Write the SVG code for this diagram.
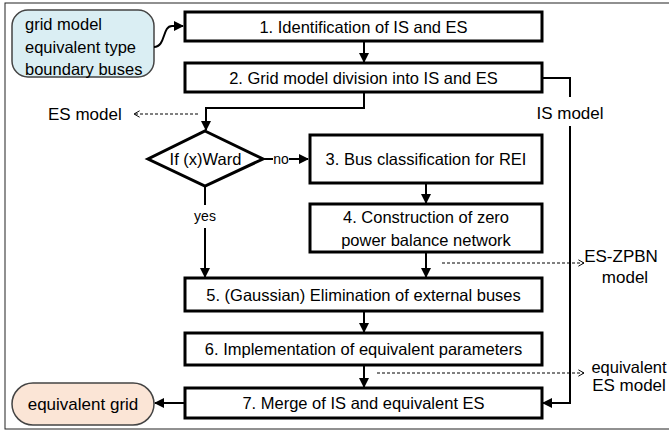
<svg xmlns="http://www.w3.org/2000/svg" width="669" height="432" viewBox="0 0 669 432">
<defs>
<style>
text{font-family:"Liberation Sans",Arial,sans-serif;fill:#000}
.box{fill:#fff;stroke:#000;stroke-width:3}
.bt{font-size:16.5px;text-anchor:middle}
.lbl{font-size:17px}
.sm{font-size:14px;text-anchor:middle}
.con{fill:none;stroke:#000;stroke-width:2}
.dash{fill:none;stroke:#000;stroke-width:1;stroke-dasharray:3,2}
</style>
<marker id="ah" viewBox="0 0 10 10" refX="9" refY="5" markerWidth="10" markerHeight="10" markerUnits="userSpaceOnUse" orient="auto">
<path d="M0,0 L10,5 L0,10 Z" fill="#000"/>
</marker>
<marker id="oh" viewBox="0 0 10 10" refX="9" refY="5" markerWidth="8" markerHeight="10" markerUnits="userSpaceOnUse" orient="auto">
<path d="M2,1 L9,5 L2,9" fill="none" stroke="#000" stroke-width="1.2"/>
</marker>
</defs>
<rect x="5" y="3" width="700" height="426" fill="#fff" stroke="#222" stroke-width="1"/>
<g id="start">
<rect x="12" y="10" width="142" height="67" rx="16" fill="#DAEEF3" stroke="#444" stroke-width="1.5"/>
<text x="25" y="30" style="font-size:16.5px">grid model</text>
<text x="25" y="53" style="font-size:16.5px">equivalent type</text>
<text x="25" y="75" style="font-size:16.5px">boundary buses</text>
</g>
<g id="n1"><rect class="box" x="185" y="12" width="357" height="29"/><text class="bt" x="363.5" y="32.5">1. Identification of IS and ES</text></g>
<g id="n2"><rect class="box" x="185" y="63" width="357" height="29"/><text class="bt" x="363.5" y="83.5">2. Grid model division into IS and ES</text></g>
<g id="dec"><polygon points="205,131 263,159 205,186 148,159" fill="#fff" stroke="#000" stroke-width="3"/><text class="bt" x="205.5" y="165">If (x)Ward</text></g>
<g id="n3"><rect class="box" x="310" y="135" width="232" height="48"/><text class="bt" x="426" y="165">3. Bus classification for REI</text></g>
<g id="n4"><rect class="box" x="310" y="204" width="232" height="48"/><text class="bt" x="426" y="223">4. Construction of zero</text><text class="bt" x="426" y="246">power balance network</text></g>
<g id="n5"><rect class="box" x="185" y="278" width="357" height="33"/><text class="bt" x="363.5" y="300.5">5. (Gaussian) Elimination of external buses</text></g>
<g id="n6"><rect class="box" x="185" y="333" width="357" height="32"/><text class="bt" x="363.5" y="355">6. Implementation of equivalent parameters</text></g>
<g id="n7"><rect class="box" x="185" y="388" width="357" height="30"/><text class="bt" x="363.5" y="409">7. Merge of IS and equivalent ES</text></g>
<g id="end">
<rect x="12" y="383" width="142" height="42" rx="21" fill="#FBE5D6" stroke="#444" stroke-width="1.5"/>
<text x="83" y="410" class="lbl" text-anchor="middle">equivalent grid</text>
</g>
<g id="connectors">
<path class="con" d="M154,47 C166,47 162,26 172,26 L183,26" marker-end="url(#ah)"/>
<path class="con" d="M364,41 L364,62" marker-end="url(#ah)"/>
<path class="con" d="M364,92 L364,108 L206,108 L206,130" marker-end="url(#ah)"/>
<path class="dash" d="M198,114 L134,114" marker-end="url(#oh)"/>
<text x="48" y="120" class="lbl">ES model</text>
<path class="con" d="M263,159 L273,159 M289,159 L308,159" marker-end="url(#ah)"/>
<text x="281" y="164" class="sm">no</text>
<path class="con" d="M205,186 L205,205 M205,228 L205,277" marker-end="url(#ah)"/>
<text x="205" y="221" class="sm">yes</text>
<path class="con" d="M426,183 L426,203" marker-end="url(#ah)"/>
<path class="con" d="M426,252 L426,277" marker-end="url(#ah)"/>
<path class="dash" d="M442,263 L584,263" marker-end="url(#oh)"/>
<text x="621" y="262" class="lbl" text-anchor="middle">ES-ZPBN</text>
<text x="625" y="283" class="lbl" text-anchor="middle">model</text>
<path class="con" d="M364,311 L364,332" marker-end="url(#ah)"/>
<path class="con" d="M364,365 L364,387" marker-end="url(#ah)"/>
<path class="dash" d="M377,373 L584,373" marker-end="url(#oh)"/>
<text x="629" y="373" text-anchor="middle" style="font-size:16.5px">equivalent</text>
<text x="629" y="391" class="lbl" text-anchor="middle">ES model</text>
<path class="con" d="M542,78 L570,78 L570,97 M570,126 L570,403 L543,403" marker-end="url(#ah)"/>
<text x="570" y="119" class="lbl" text-anchor="middle">IS model</text>
<path class="con" d="M185,403 L155,403" marker-end="url(#ah)"/>
</g>
</svg>
